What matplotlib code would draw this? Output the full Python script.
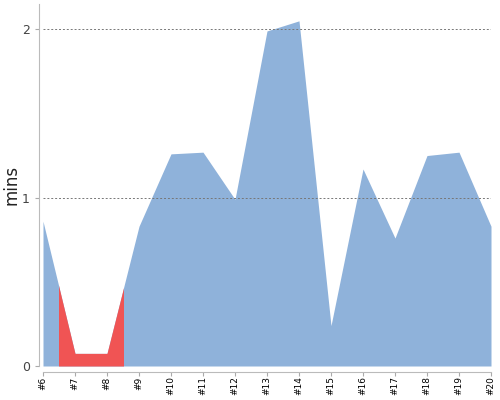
import numpy as np
import matplotlib.pyplot as plt
from matplotlib.patches import Rectangle

labels = ['#6', '#7', '#8', '#9', '#10', '#11', '#12', '#13', '#14', '#15',
          '#16', '#17', '#18', '#19', '#20']
mins = [0.86, 0.075, 0.075, 0.83, 1.26, 1.27, 0.99, 1.99, 2.05, 0.24,
        1.17, 0.76, 1.25, 1.27, 0.83]
red_from, red_to = 6.5, 8.5

x = np.arange(6, 6 + len(labels))

fig = plt.figure(figsize=(5, 4), dpi=100)
ax = fig.add_axes([0.086, 0.085, 0.896, 0.905])

ax.fill_between(x, mins, color='#8fb2da', lw=0, zorder=1)
red = ax.fill_between(x, mins, color='#f05454', lw=0, zorder=2)
red.set_clip_path(Rectangle((red_from, 0), red_to - red_from, 3,
                            transform=ax.transData))

ax.set_xlim(6, 20)
ax.set_ylim(0, 2.15)
ax.set_xticks(x)
ax.set_xticklabels(labels)
ax.set_yticks([0, 1, 2])
ax.tick_params(axis='y', labelsize=9, labelcolor='#444444', length=3, color='#aaaaaa')
ax.tick_params(axis='x', labelsize=6.5, labelrotation=90, length=3, color='#aaaaaa', pad=0.5)

for yv in [1, 2]:
    ax.axhline(yv, color='#777777', lw=0.7, ls=(0, (2, 2)), zorder=3)

for s in ['top', 'right']:
    ax.spines[s].set_visible(False)
ax.spines['bottom'].set_position(('outward', 4))
ax.spines['left'].set_position(('outward', 3))
ax.spines['bottom'].set_color('#bbbbbb')
ax.spines['left'].set_color('#bbbbbb')

ax.set_ylabel('mins', fontsize=12, color='#222222', labelpad=1)

fig.savefig('out.png')
